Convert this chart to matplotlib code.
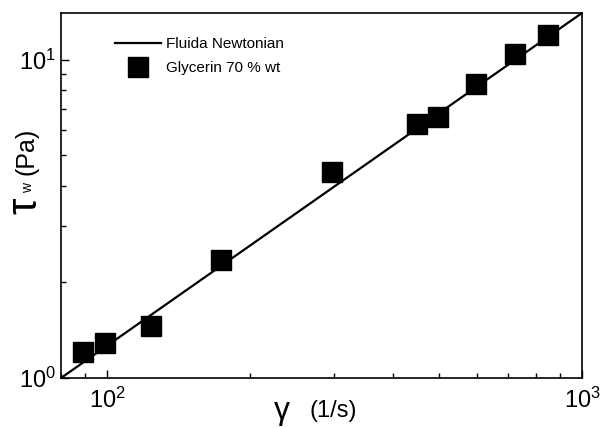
import numpy as np
import matplotlib.pyplot as plt
from matplotlib.ticker import LogLocator, NullFormatter

# shear rate (1/s) and wall shear stress (Pa) for glycerin 70 %wt
laju_geser = [89, 99, 124, 174, 298, 449, 498, 599, 722, 846]
tegangan_dinding = [1.21, 1.29, 1.46, 2.35, 4.44, 6.26, 6.61, 8.37, 10.44, 11.98]

# newtonian fluid reference line
garis_x = [80, 1000]
garis_y = [1.0, 14.0]

plt.rcParams['font.family'] = ['Liberation Sans', 'DejaVu Sans']

W, H = 608, 428
fig = plt.figure(figsize=(W / 100, H / 100), dpi=100)
ax = fig.add_axes([61 / W, 1 - 378 / H, 521 / W, 365 / H])

ax.plot(garis_x, garis_y, color='black', lw=1.6, label='Fluida Newtonian')
ax.plot(laju_geser, tegangan_dinding, 's', color='black', markersize=14,
        label='Glycerin 70 % wt')

ax.set_xscale('log')
ax.set_yscale('log')
ax.set_xlim(80, 1000)
ax.set_ylim(1, 14)

ax.xaxis.set_major_locator(LogLocator(base=10))
ax.xaxis.set_minor_locator(LogLocator(base=10, subs=np.arange(2, 10)))
ax.xaxis.set_minor_formatter(NullFormatter())
ax.yaxis.set_minor_formatter(NullFormatter())

ax.tick_params(which='both', direction='in', labelsize=17, width=1.0)
ax.tick_params(which='major', length=6)
ax.tick_params(which='minor', length=3.5)
ax.tick_params(axis='x', pad=7)
for s in ax.spines.values():
    s.set_linewidth(1.2)

# axis titles built from pieces: big greek symbol, small subscript, unit
def tulis(x, y, s, size, rot=0):
    fig.text(x / W, 1 - y / H, s, fontsize=size, rotation=rot,
             ha='center', va='center')

tulis(25, 206, 'τ', 30, 90)
tulis(28, 188, 'w', 10, 90)
tulis(27, 151, '(Pa)', 18, 90)
tulis(282, 411, 'γ', 23)
tulis(333, 411, '(1/s)', 17)

leg = ax.legend(loc='upper left', bbox_to_anchor=(0.104, 0.934), frameon=False,
                borderpad=0, borderaxespad=0,
                handlelength=3.0, handletextpad=0.3, labelspacing=0.68,
                prop={'size': 11})

fig.savefig('out.png', dpi=100)
